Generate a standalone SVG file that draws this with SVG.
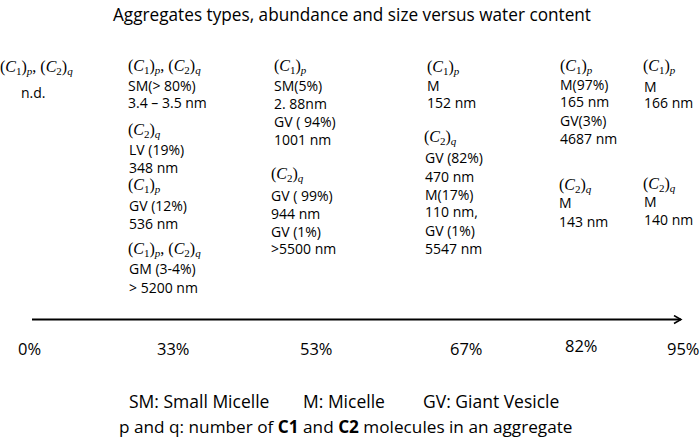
<svg xmlns="http://www.w3.org/2000/svg" width="700" height="445" viewBox="0 0 700 445">
<style>
text{font-family:"Open Sans","Liberation Sans",sans-serif;fill:#000}
.t{font-size:14px}
.m{font-family:"Liberation Serif","DejaVu Serif",serif;font-size:16px}
.i{font-style:italic}
.s{font-size:11px}
.ax{font-size:16.5px}
.lg{font-size:17.2px}
.lg1{font-size:17.5px}
.ttl{font-size:18px}
</style>
<defs>
<marker id="arr" markerWidth="10" markerHeight="10" refX="8" refY="5" orient="auto" markerUnits="userSpaceOnUse">
<path d="M1,1 L8,5 L1,9" fill="none" stroke="#000" stroke-width="1.5"/>
</marker>
</defs>
<rect width="700" height="445" fill="#fff"/>
<text id="title" class="ttl" x="352" y="21" text-anchor="middle" textLength="478" lengthAdjust="spacingAndGlyphs">Aggregates types, abundance and size versus water content</text>

<g id="connectors">
<line x1="32" y1="319.5" x2="681" y2="319.5" stroke="#000" stroke-width="2" marker-end="url(#arr)"/>
</g>

<g id="axis-labels" class="ax">
<text x="18" y="355">0%</text>
<text x="157" y="355">33%</text>
<text x="300" y="355">53%</text>
<text x="450" y="355">67%</text>
<text x="565" y="352">82%</text>
<text x="667" y="355">95%</text>
</g>

<g id="col0">
<text class="m" x="0" y="72">(<tspan class="i">C</tspan><tspan class="s" dy="2.5">1</tspan><tspan dy="-2.5">)</tspan><tspan class="s i" dy="2.5">p</tspan><tspan dy="-2.5">, (</tspan><tspan class="i">C</tspan><tspan class="s" dy="2.5">2</tspan><tspan dy="-2.5">)</tspan><tspan class="s i" dy="2.5">q</tspan></text>
<text class="t" x="21" y="98">n.d.</text>
</g>

<g id="col33">
<text class="m" x="128" y="71">(<tspan class="i">C</tspan><tspan class="s" dy="2.5">1</tspan><tspan dy="-2.5">)</tspan><tspan class="s i" dy="2.5">p</tspan><tspan dy="-2.5">, (</tspan><tspan class="i">C</tspan><tspan class="s" dy="2.5">2</tspan><tspan dy="-2.5">)</tspan><tspan class="s i" dy="2.5">q</tspan></text>
<text class="t" x="128" y="91">SM(&gt; 80%)</text>
<text class="t" x="128" y="108">3.4 – 3.5 nm</text>
<text class="m" x="128" y="135">(<tspan class="i">C</tspan><tspan class="s" dy="2.5">2</tspan><tspan dy="-2.5">)</tspan><tspan class="s i" dy="2.5">q</tspan></text>
<text class="t" x="129" y="155">LV (19%)</text>
<text class="t" x="129" y="173">348 nm</text>
<text class="m" x="128" y="190">(<tspan class="i">C</tspan><tspan class="s" dy="2.5">1</tspan><tspan dy="-2.5">)</tspan><tspan class="s i" dy="2.5">p</tspan></text>
<text class="t" x="129" y="211">GV (12%)</text>
<text class="t" x="129" y="229">536 nm</text>
<text class="m" x="128" y="254">(<tspan class="i">C</tspan><tspan class="s" dy="2.5">1</tspan><tspan dy="-2.5">)</tspan><tspan class="s i" dy="2.5">p</tspan><tspan dy="-2.5">, (</tspan><tspan class="i">C</tspan><tspan class="s" dy="2.5">2</tspan><tspan dy="-2.5">)</tspan><tspan class="s i" dy="2.5">q</tspan></text>
<text class="t" x="129" y="274">GM (3-4%)</text>
<text class="t" x="129" y="293">&gt; 5200 nm</text>
</g>

<g id="col53">
<text class="m" x="274" y="71">(<tspan class="i">C</tspan><tspan class="s" dy="2.5">1</tspan><tspan dy="-2.5">)</tspan><tspan class="s i" dy="2.5">p</tspan></text>
<text class="t" x="274" y="91">SM(5%)</text>
<text class="t" x="274" y="109">2. 88nm</text>
<text class="t" x="274" y="127">GV ( 94%)</text>
<text class="t" x="274" y="145">1001 nm</text>
<text class="m" x="271" y="179">(<tspan class="i">C</tspan><tspan class="s" dy="2.5">2</tspan><tspan dy="-2.5">)</tspan><tspan class="s i" dy="2.5">q</tspan></text>
<text class="t" x="271" y="201">GV ( 99%)</text>
<text class="t" x="271" y="219">944 nm</text>
<text class="t" x="271" y="237">GV (1%)</text>
<text class="t" x="271" y="254">&gt;5500 nm</text>
</g>

<g id="col67">
<text class="m" x="427" y="72">(<tspan class="i">C</tspan><tspan class="s" dy="2.5">1</tspan><tspan dy="-2.5">)</tspan><tspan class="s i" dy="2.5">p</tspan></text>
<text class="t" x="427" y="91">M</text>
<text class="t" x="427" y="108">152 nm</text>
<text class="m" x="424" y="142">(<tspan class="i">C</tspan><tspan class="s" dy="2.5">2</tspan><tspan dy="-2.5">)</tspan><tspan class="s i" dy="2.5">q</tspan></text>
<text class="t" x="425" y="163">GV (82%)</text>
<text class="t" x="425" y="182">470 nm</text>
<text class="t" x="425" y="200">M(17%)</text>
<text class="t" x="425" y="217">110 nm,</text>
<text class="t" x="425" y="236">GV (1%)</text>
<text class="t" x="425" y="254">5547 nm</text>
</g>

<g id="col82">
<text class="m" x="560" y="71">(<tspan class="i">C</tspan><tspan class="s" dy="2.5">1</tspan><tspan dy="-2.5">)</tspan><tspan class="s i" dy="2.5">p</tspan></text>
<text class="t" x="560" y="90">M(97%)</text>
<text class="t" x="560" y="107">165 nm</text>
<text class="t" x="560" y="126">GV(3%)</text>
<text class="t" x="560" y="144">4687 nm</text>
<text class="m" x="559" y="190">(<tspan class="i">C</tspan><tspan class="s" dy="2.5">2</tspan><tspan dy="-2.5">)</tspan><tspan class="s i" dy="2.5">q</tspan></text>
<text class="t" x="559" y="208">M</text>
<text class="t" x="559" y="227">143 nm</text>
</g>

<g id="col95">
<text class="m" x="643" y="71">(<tspan class="i">C</tspan><tspan class="s" dy="2.5">1</tspan><tspan dy="-2.5">)</tspan><tspan class="s i" dy="2.5">p</tspan></text>
<text class="t" x="644" y="92">M</text>
<text class="t" x="644" y="108">166 nm</text>
<text class="m" x="643" y="189">(<tspan class="i">C</tspan><tspan class="s" dy="2.5">2</tspan><tspan dy="-2.5">)</tspan><tspan class="s i" dy="2.5">q</tspan></text>
<text class="t" x="644" y="207">M</text>
<text class="t" x="644" y="225">140 nm</text>
</g>

<g id="legend" class="lg">
<text class="lg1" x="129" y="408">SM: Small Micelle</text>
<text class="lg1" x="303" y="408">M: Micelle</text>
<text class="lg1" x="423" y="408">GV: Giant Vesicle</text>
<text x="119" y="433">p and q: number of <tspan font-weight="bold">C1</tspan> and <tspan font-weight="bold">C2</tspan> molecules in an aggregate</text>
</g>
</svg>
